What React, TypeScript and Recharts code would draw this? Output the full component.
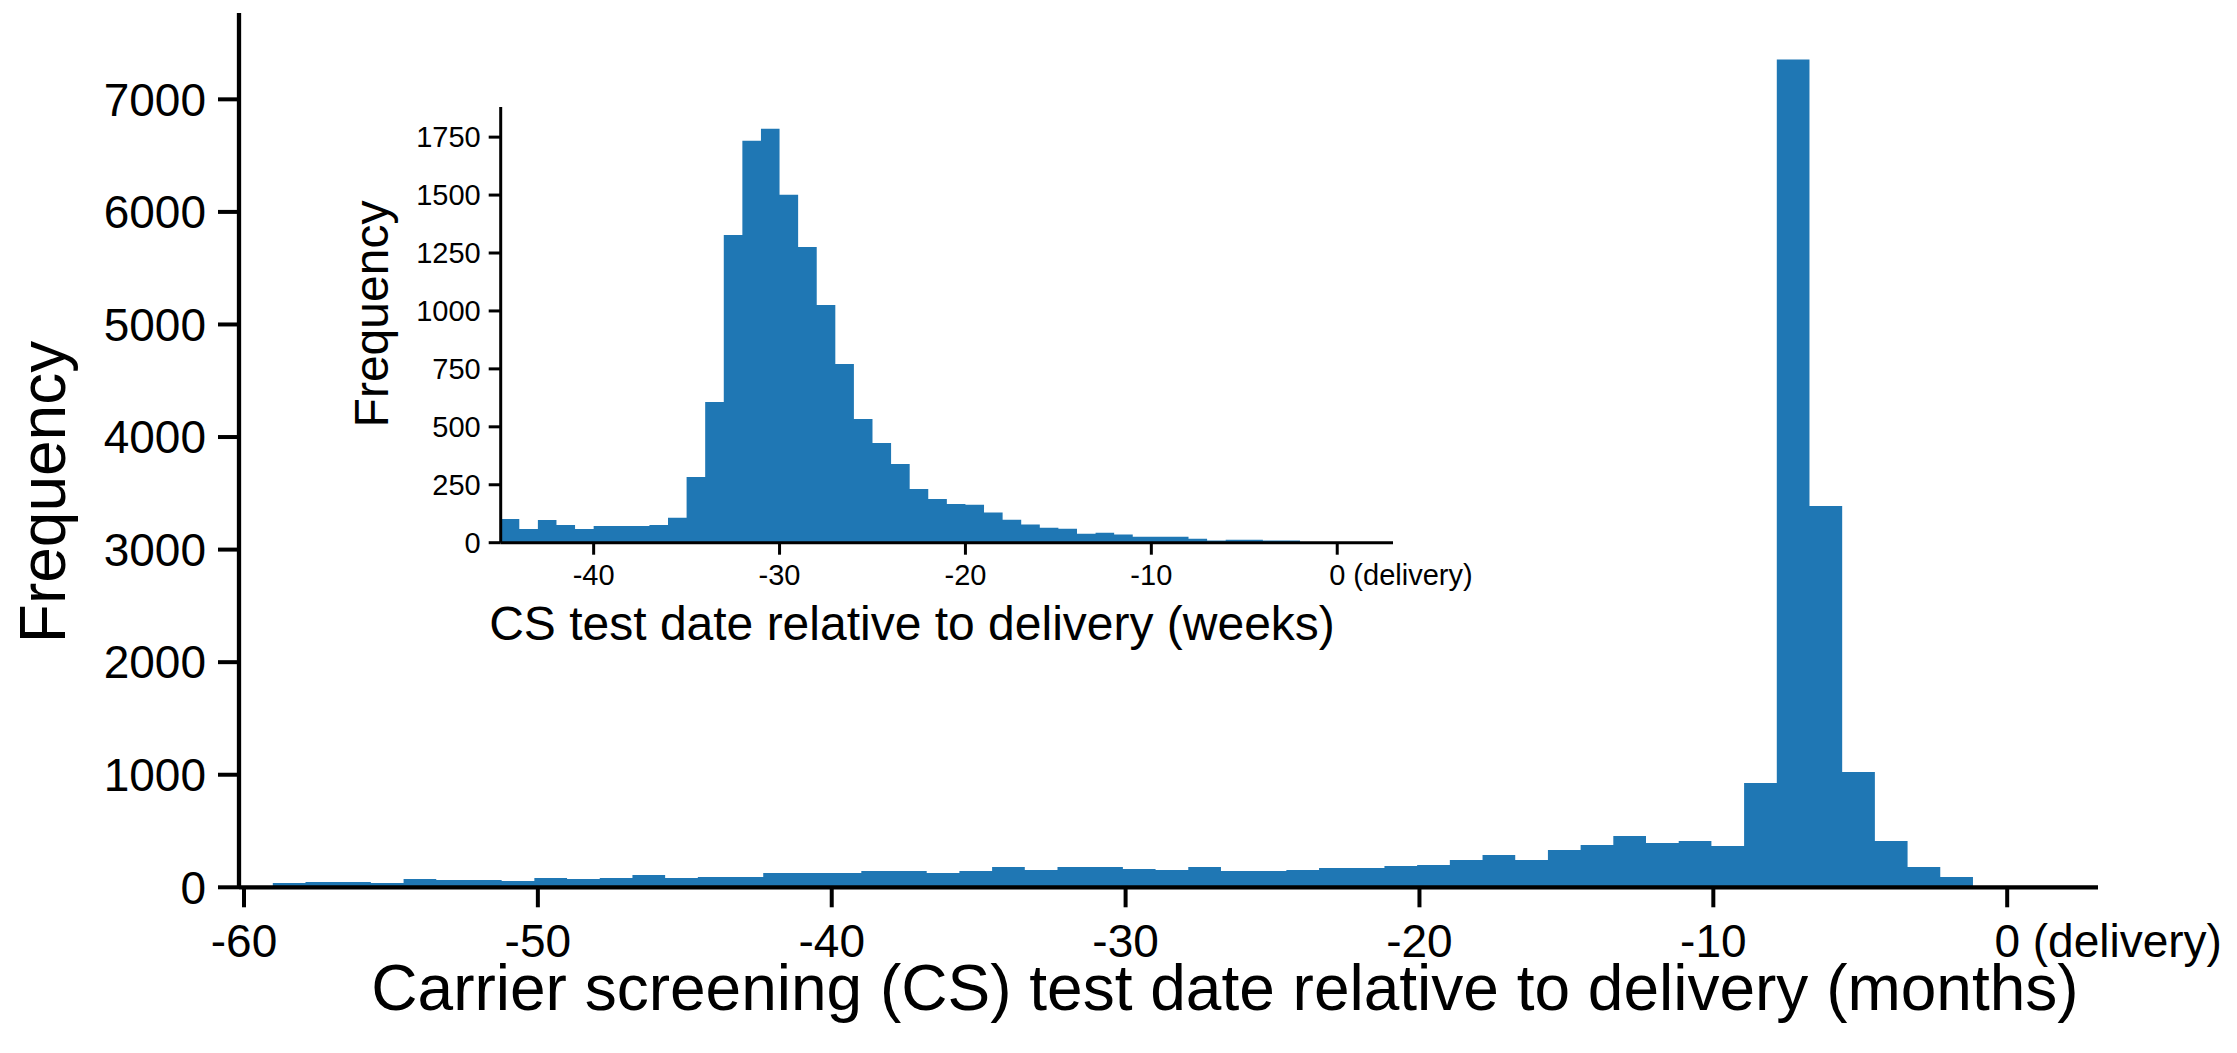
import React from 'react';
import { ComposedChart, Area, XAxis, YAxis } from 'recharts';

// main histogram: CS test date relative to delivery, in months
const MONTH_BIN_START = -59.02;
const MONTH_BIN_WIDTH = 1.1126;
const MONTH_COUNTS = [
  38, 47, 47, 38, 74, 65, 65, 56, 83, 74, 83, 109, 83, 92,
  92, 127, 127, 127, 145, 145, 127, 145, 180, 154, 180, 180, 163, 154, 180,
  145, 145, 154, 171, 171, 189, 198, 243, 287, 243, 331, 376, 456, 394, 411,
  367, 927, 7355, 3387, 1024, 411, 180, 92,
];
const MONTH_TICKS = [-60, -50, -40, -30, -20, -10, 0];
const MONTH_Y_TICKS = [0, 1000, 2000, 3000, 4000, 5000, 6000, 7000];

// inset histogram: same thing in weeks
const WEEK_BIN_START = -45;
const WEEK_BIN_WIDTH = 1;
const WEEK_COUNTS = [
  102, 59, 98, 76, 59, 72, 72, 72, 76, 108, 283, 607, 1328, 1734, 1786,
  1501, 1276, 1026, 771, 534, 430, 340, 232, 189, 167, 164, 130, 99, 78,
  65, 60, 39, 43, 35, 26, 26, 26, 17, 9, 13, 13, 9, 9,
];
const WEEK_TICKS = [-40, -30, -20, -10, 0];
const WEEK_Y_TICKS = [0, 250, 500, 750, 1000, 1250, 1500, 1750];

const BLUE = '#1f77b4';
const FONT = '"Liberation Sans", Arial, sans-serif';

// step-area points: one per bin left edge, plus the closing right edge
const toSteps = (start: number, width: number, counts: number[]) => {
  const pts = counts.map((c, i) => ({ x: start + i * width, count: c }));
  pts.push({ x: start + counts.length * width, count: 0 });
  return pts;
};

const monthData = toSteps(MONTH_BIN_START, MONTH_BIN_WIDTH, MONTH_COUNTS);
const weekData = toSteps(WEEK_BIN_START, WEEK_BIN_WIDTH, WEEK_COUNTS);

const makeXTick = (fontSize: number) => (props: any) => {
  const { x, y, payload } = props;
  if (payload.value === 0) {
    return (
      <text x={x - fontSize * 0.278} y={y} dy="0.71em" textAnchor="start"
        fontSize={fontSize} fontFamily={FONT} fill="#000">
        0 (delivery)
      </text>
    );
  }
  return (
    <text x={x} y={y} dy="0.71em" textAnchor="middle" fontSize={fontSize} fontFamily={FONT} fill="#000">
      {payload.value}
    </text>
  );
};

const App = () => {
  return (
    <div style={{ position: 'relative', width: 2237, height: 1053, background: '#fff' }}>
      <style>{'body{margin:0}'}</style>

      {/* main chart */}
      <div style={{ position: 'absolute', left: 0, top: 0 }}>
        <ComposedChart width={2237} height={1053} data={monthData}
          margin={{ top: 13, right: 139, bottom: 0, left: 0 }}>
          <XAxis dataKey="x" type="number" domain={[-60.17, 3.09]} ticks={MONTH_TICKS}
            allowDataOverflow height={165.7}
            axisLine={{ stroke: '#000', strokeWidth: 4.3 }}
            tickLine={{ stroke: '#000', strokeWidth: 4 }}
            tickSize={20} tickMargin={17}
            tick={makeXTick(46)}
            label={{
              content: () => (
                <text x={1225} y={1010} textAnchor="middle" fontSize={64} fontFamily={FONT} fill="#000">
                  Carrier screening (CS) test date relative to delivery (months)
                </text>
              ),
            }}
          />
          <YAxis type="number" domain={[0, 7767]} ticks={MONTH_Y_TICKS} allowDataOverflow width={239}
            axisLine={{ stroke: '#000', strokeWidth: 4.3 }}
            tickLine={{ stroke: '#000', strokeWidth: 4 }}
            tickSize={21} tickMargin={12}
            tick={{ fontSize: 46, fontFamily: FONT, fill: '#000' }}
            label={{
              content: () => (
                <text x={43} y={492} transform="rotate(-90, 43, 492)" textAnchor="middle"
                  dominantBaseline="central" fontSize={64} fontFamily={FONT} fill="#000">
                  Frequency
                </text>
              ),
            }}
          />
          <Area type="stepAfter" dataKey="count" stroke="none" fill={BLUE} fillOpacity={1}
            isAnimationActive={false} />
        </ComposedChart>
      </div>

      {/* inset chart */}
      <div style={{ position: 'absolute', left: 330, top: 80 }}>
        <ComposedChart width={1220} height={600} data={weekData}
          margin={{ top: 27, right: 157, bottom: 0, left: 0 }}>
          <XAxis dataKey="x" type="number" domain={[-45, 3]} ticks={WEEK_TICKS}
            allowDataOverflow height={137.3}
            axisLine={{ stroke: '#000', strokeWidth: 3 }}
            tickLine={{ stroke: '#000', strokeWidth: 3 }}
            tickSize={12} tickMargin={10}
            tick={makeXTick(29)}
            label={{
              content: () => (
                <text x={582} y={560} textAnchor="middle" fontSize={48} fontFamily={FONT} fill="#000">
                  CS test date relative to delivery (weeks)
                </text>
              ),
            }}
          />
          <YAxis type="number" domain={[0, 1880]} ticks={WEEK_Y_TICKS} allowDataOverflow width={170.7}
            axisLine={{ stroke: '#000', strokeWidth: 3 }}
            tickLine={{ stroke: '#000', strokeWidth: 3 }}
            tickSize={12} tickMargin={8}
            tick={{ fontSize: 29, fontFamily: FONT, fill: '#000' }}
            label={{
              content: () => (
                <text x={41} y={234} transform="rotate(-90, 41, 234)" textAnchor="middle"
                  dominantBaseline="central" fontSize={48} fontFamily={FONT} fill="#000">
                  Frequency
                </text>
              ),
            }}
          />
          <Area type="stepAfter" dataKey="count" stroke="none" fill={BLUE} fillOpacity={1}
            isAnimationActive={false} />
        </ComposedChart>
      </div>
    </div>
  );
};

export default App;
